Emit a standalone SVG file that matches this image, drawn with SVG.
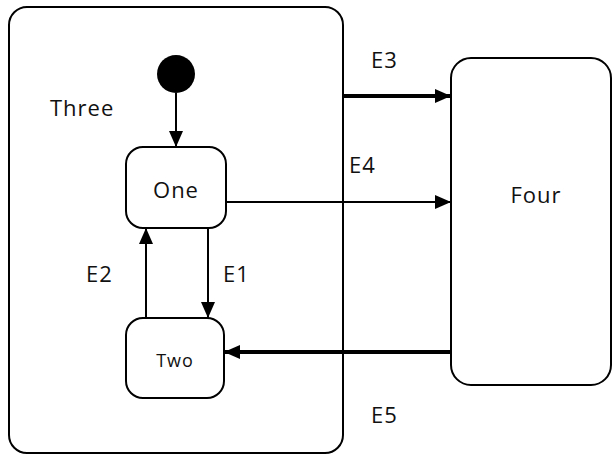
<svg xmlns="http://www.w3.org/2000/svg" width="614" height="455" viewBox="0 0 614 455">
<style>
.box{fill:#fff;stroke:#000;stroke-width:2}
.t{font-family:"Open Sans","Liberation Sans",sans-serif;font-size:22px;fill:#111;letter-spacing:1px}
.thin{stroke:#000;stroke-width:2;fill:none}
.thick{stroke:#000;stroke-width:4;fill:none}
</style>
<defs>
<marker id="ah" markerUnits="userSpaceOnUse" markerWidth="16" markerHeight="14" viewBox="0 0 16 14" refX="16" refY="7" orient="auto">
<path d="M0,0 L16,7 L0,14 Z" fill="#000"/>
</marker>
</defs>
<g id="three">
<rect class="box" x="9" y="7" width="334" height="446" rx="18"/>
<text class="t" x="50" y="116">Three</text>
</g>
<g id="initial"><circle cx="176" cy="74" r="19" fill="#000"/></g>
<g id="one">
<rect class="box" x="126" y="147" width="100" height="81" rx="17"/>
<text class="t" x="176" y="198" text-anchor="middle">One</text>
</g>
<g id="two">
<rect class="box" x="126" y="318" width="98" height="80" rx="17"/>
<text class="t" x="175" y="367" text-anchor="middle" style="font-size:18px">Two</text>
</g>
<g id="four">
<rect class="box" x="451" y="58" width="160" height="327" rx="20"/>
<text class="t" x="536" y="203" text-anchor="middle">Four</text>
</g>
<g id="connectors">
<line class="thin" x1="176" y1="93" x2="176" y2="147" marker-end="url(#ah)"/>
<line class="thin" x1="146" y1="318" x2="146" y2="228" marker-end="url(#ah)"/>
<line class="thin" x1="208" y1="228" x2="208" y2="318" marker-end="url(#ah)"/>
<line class="thick" x1="343" y1="96" x2="451" y2="96" marker-end="url(#ah)"/>
<line class="thin" x1="226" y1="202" x2="451" y2="202" marker-end="url(#ah)"/>
<line class="thick" x1="451" y1="352" x2="224" y2="352" marker-end="url(#ah)"/>
<text class="t" x="86" y="282">E2</text>
<text class="t" x="223" y="282">E1</text>
<text class="t" x="371" y="68">E3</text>
<text class="t" x="349" y="173">E4</text>
<text class="t" x="371" y="423">E5</text>
</g>
</svg>
